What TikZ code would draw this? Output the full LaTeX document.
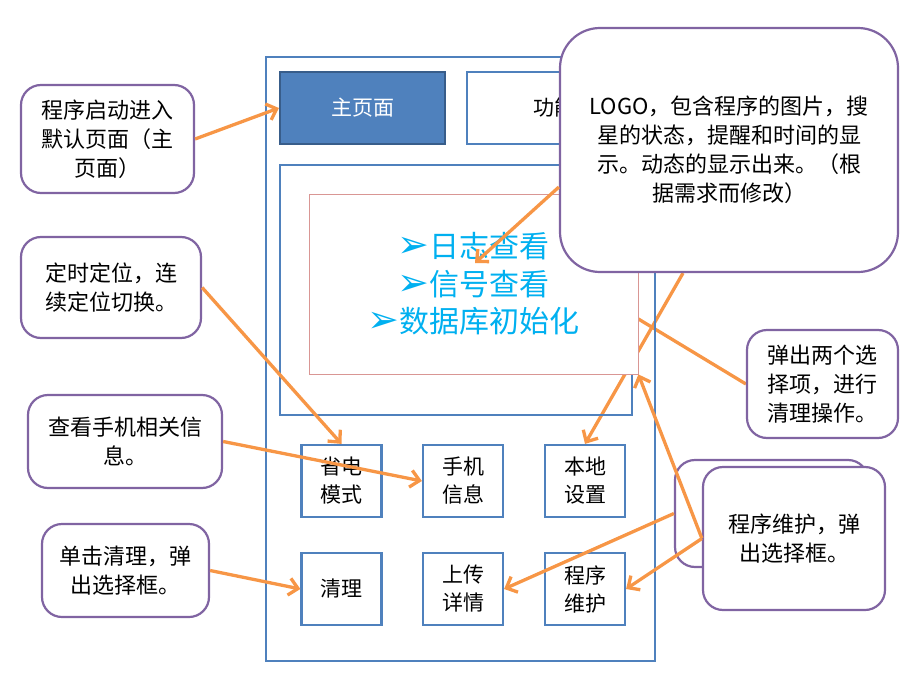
\documentclass[tikz,border=0pt]{standalone}
\usepackage{fontspec}
\setmainfont{Noto Sans CJK SC}
\newfontfamily\dingfont{DejaVu Sans}
\usetikzlibrary{arrows.meta,backgrounds}
\definecolor{frameblue}{HTML}{4F81BD}
\definecolor{darkblue}{HTML}{385D8A}
\definecolor{notepurple}{HTML}{8064A2}
\definecolor{arroworange}{HTML}{F79646}
\definecolor{listpink}{HTML}{D99694}
\definecolor{listcyan}{HTML}{00B0F0}
\newcommand{\bulletarrow}{{\dingfont\fontsize{38}{37.5}\selectfont ➢}}

\begin{document}
\begin{tikzpicture}[x=1pt,y=-1pt,
    panel/.style={draw=frameblue,line width=2.2pt,inner sep=0pt},
    btn/.style={panel,minimum width=80pt,minimum height=72pt,align=center,
        font=\fontsize{21}{28}\selectfont},
    note/.style={draw=notepurple,line width=2.2pt,fill=white,rounded corners=20pt,
        inner sep=0pt,align=center,font=\fontsize{22}{29}\selectfont},
    arr/.style={draw=arroworange,line width=3.3pt,-{Straight Barb[length=9pt,width=17pt]}},
    bare/.style={draw=arroworange,line width=3.3pt}]
    \useasboundingbox (0,0) rectangle (920,690);

    \node[panel,minimum width=389pt,minimum height=604pt] (phone) at (460.5,359) {};
    \node[panel,draw=darkblue,fill=frameblue,minimum width=165pt,minimum height=72pt,
        text=white,font=\fontsize{21}{28}\selectfont] (home) at (362.5,108) {主页面};
    \node[panel,minimum width=174pt,minimum height=72pt,
        font=\fontsize{21}{28}\selectfont] (func) at (554,108) {功能};
    \node[panel,minimum width=352pt,minimum height=250pt] (content) at (456,290) {};
    \node[draw=listpink,line width=0.8pt,fill=white,minimum width=329pt,minimum height=180pt,
        align=center,text=listcyan,font=\fontsize{30}{37.5}\selectfont] (list) at (473.5,284)
        {\bulletarrow 日志查看\\ \bulletarrow 信号查看\\ \bulletarrow 数据库初始化};

    \node[btn] (power) at (341.5,481) {省电\\模式};
    \node[btn] (phoneinfo) at (463,481) {手机\\信息};
    \node[btn] (local) at (585,481) {本地\\设置};
    \node[btn] (clean) at (341.5,589) {清理};
    \node[btn] (upload) at (463,589) {上传\\详情};
    \node[btn] (maint) at (585,589) {程序\\维护};

    \node[note,minimum width=173pt,minimum height=108pt] (startnote) at (107.5,139)
        {程序启动进入\\默认页面（主\\页面）};
    \node[note,minimum width=180pt,minimum height=101pt] (locatenote) at (111,287.5)
        {定时定位，连\\续定位切换。};
    \node[note,minimum width=194pt,minimum height=93pt] (infonote) at (125,441.5)
        {查看手机相关信\\息。};
    \node[note,minimum width=167pt,minimum height=93pt] (cleannote) at (125.5,570.5)
        {单击清理，弹\\出选择框。};
    \node[note,minimum width=151pt,minimum height=108pt] (popnote) at (822.5,384)
        {弹出两个选\\择项，进行\\清理操作。};
    \node[note,minimum width=193pt,minimum height=107pt] (uploadnote) at (771.5,513.5) {};
    \node[note,minimum width=182pt,minimum height=143pt] (maintnote) at (794,538.5)
        {程序维护，弹\\出选择框。};
    \node[note,rounded corners=40pt,minimum width=338pt,minimum height=244pt] (logonote) at (729,150)
        {LOGO，包含程序的图片，搜\\星的状态，提醒和时间的显\\示。动态的显示出来。（根\\据需求而修改）};

    \coordinate (logtip) at (475,263);
    \draw[arr] (startnote.east) -- (home.west);
    \draw[arr] (locatenote.east) -- (power.north);
    \draw[arr] (infonote.east) -- (phoneinfo.west);
    \draw[arr] (cleannote.east) -- (clean.west);
    \draw[arr] ([yshift=-37pt]logonote.west) -- (logtip);
    \draw[arr] (maintnote.west) -- (list.south east);
    \draw[arr] (maintnote.west) -- (maint.east);
    \draw[arr] (uploadnote.west) -- (upload.east);
    \begin{pgfonlayer}{background}
        \draw[arr] ([xshift=-46pt]logonote.south) -- (local.north);
        \draw[bare] (popnote.west) -- ([yshift=-35pt]list.east);
    \end{pgfonlayer}
\end{tikzpicture}
\end{document}
